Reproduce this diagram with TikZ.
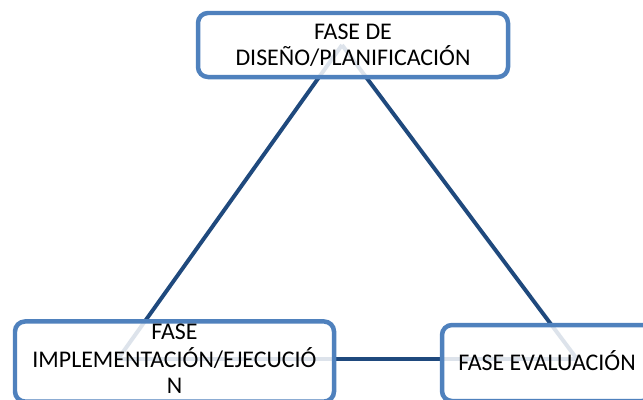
\documentclass[tikz,border=0pt]{standalone}
\usepackage{fontspec}
\setmainfont{Carlito}
\usetikzlibrary{positioning}
\definecolor{linea}{RGB}{31,73,125}
\definecolor{borde}{RGB}{79,129,189}

\begin{document}
\begin{tikzpicture}[
    fase/.style={draw=borde, line width=3.2pt, rounded corners=0.25cm, fill=white,
      fill opacity=0.85, text opacity=1, align=center, inner sep=0pt,
      font=\fontsize{17}{18.6}\selectfont},
    lado/.style={draw=linea, line width=2.8pt}]
    \useasboundingbox (0,0) rectangle (16.075,9.975);
    \coordinate (arriba) at (8.55,8.85);
    \coordinate (izq) at (2.95,1.0);
    \coordinate (der) at (14.425,1.0);
    \draw[lado] (arriba)--(izq);
    \draw[lado] (arriba)--(der);
    \draw[lado] (izq)--(der);
    \node[fase, minimum width=7.75cm, minimum height=1.6cm] (diseno) at (8.825,8.85) {FASE DE\\DISEÑO/PLANIFICACIÓN};
    \node[fase, minimum width=7.975cm, minimum height=1.975cm] (implementacion) at (4.3625,0.9375)
      {\raisebox{0.09cm}{\begin{tabular}{@{}c@{}}FASE\\IMPLEMENTACIÓN/EJECUCIÓ\\N\end{tabular}}};
    \node[fase, minimum width=5.25cm, minimum height=1.9cm] (evaluacion) at (13.675,0.9) {\raisebox{0.1cm}{FASE EVALUACIÓN}};
\end{tikzpicture}
\end{document}
